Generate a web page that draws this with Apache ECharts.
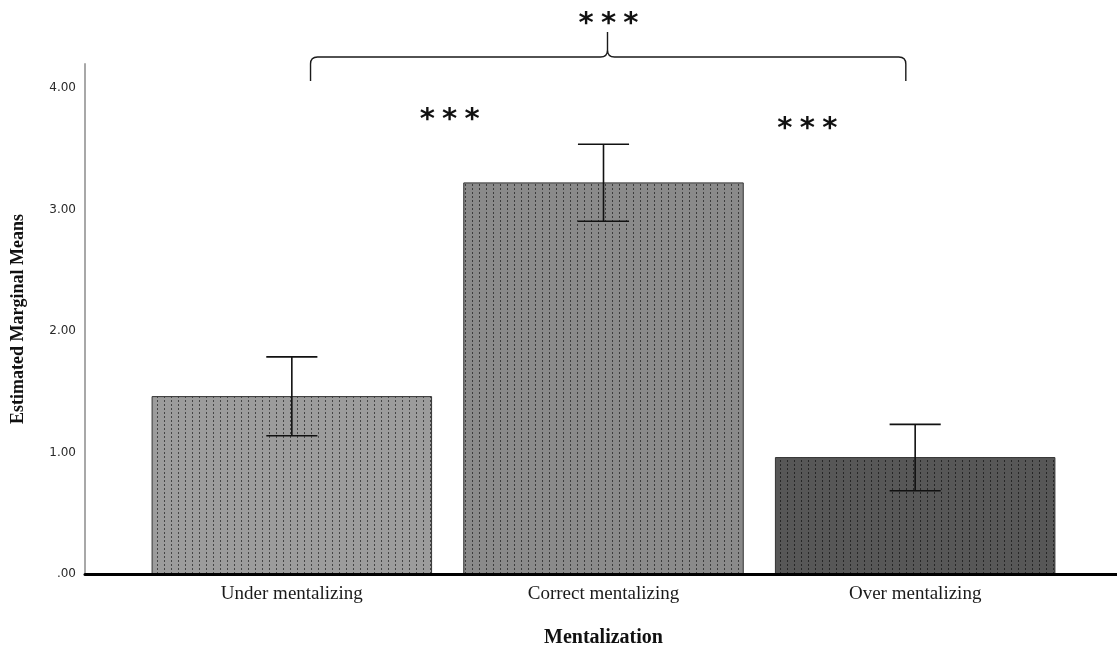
<!DOCTYPE html>
<html>
<head>
<meta charset="utf-8">
<script src="https://cdn.jsdelivr.net/npm/echarts@6/dist/echarts.min.js"></script>
<style>
html,body{margin:0;padding:0;background:#fff;}
#chart{width:1117px;height:648px;}
</style>
</head>
<body>
<div id="chart"></div>
<script>
// ---- data ----
const categories = ['Under mentalizing', 'Correct mentalizing', 'Over mentalizing'];
const means = [1.465, 3.225, 0.963];
const ciLow = [1.138, 2.905, 0.686];
const ciHigh = [1.788, 3.539, 1.232];
const yTicks = [0, 1, 2, 3, 4];
const sigLabel = '***';

const baseColors = ['#9c9c9c', '#8a8a8a', '#575757'];
const dotColors = ['#454545', '#3c3c3c', '#262626'];

function makePattern(base, dot) {
  const c = document.createElement('canvas');
  c.width = 7; c.height = 4;
  const g = c.getContext('2d');
  g.fillStyle = base; g.fillRect(0, 0, 7, 4);
  g.fillStyle = dot; g.fillRect(3, 0, 1, 2);
  return { image: c, repeat: 'repeat' };
}

const chart = echarts.init(document.getElementById('chart'));

const fmt = v => { const s = v.toFixed(2); return s.startsWith('0') ? s.slice(1) : s; };
const spaced = s => s.split('').join('\u2005');

const option = {
  animation: false,
  backgroundColor: '#ffffff',
  grid: [
    { left: 136, right: 46, top: 64, bottom: 74, outerBoundsMode: 'none', containLabel: false },
    { left: 85, right: 0, top: 64, bottom: 74, outerBoundsMode: 'none', containLabel: false }
  ],
  xAxis: [
    {
      type: 'category', gridIndex: 0, data: categories,
      axisLine: { show: false }, axisTick: { show: false },
      axisLabel: { fontFamily: 'Liberation Serif', fontSize: 19, color: '#1a1a1a', margin: 11 },
      name: 'Mentalization', nameLocation: 'middle', nameGap: 54,
      nameTextStyle: { fontFamily: 'Liberation Serif', fontSize: 20, fontWeight: 'bold', color: '#111' }
    },
    {
      type: 'value', gridIndex: 1, min: 0, max: 1, z: 10,
      axisLine: { show: true, lineStyle: { color: '#000', width: 3 } },
      axisTick: { show: false }, axisLabel: { show: false }, splitLine: { show: false }
    }
  ],
  yAxis: [
    { type: 'value', gridIndex: 0, min: 0, max: 4.2, show: false },
    {
      type: 'value', gridIndex: 1, min: 0, max: 4.2, interval: 1,
      axisLine: { show: true, lineStyle: { color: '#a8a8a8', width: 2 } },
      axisTick: { show: false }, splitLine: { show: false },
      axisLabel: {
        fontFamily: 'DejaVu Sans', fontSize: 12, color: '#2a2a2a', margin: 9,
        formatter: v => (yTicks.indexOf(v) >= 0 ? fmt(v) : '')
      },
      name: 'Estimated Marginal Means', nameLocation: 'middle', nameGap: 58, nameRotate: 90,
      nameTextStyle: { fontFamily: 'Liberation Serif', fontSize: 18, fontWeight: 'bold', color: '#111' }
    }
  ],
  series: [
    {
      type: 'bar', xAxisIndex: 0, yAxisIndex: 0, barWidth: '90%',
      data: means.map((v, i) => ({
        value: v,
        itemStyle: { color: makePattern(baseColors[i], dotColors[i]), borderColor: '#333', borderWidth: 1 }
      }))
    },
    {
      type: 'custom', xAxisIndex: 0, yAxisIndex: 0, z: 5,
      data: categories.map((c, i) => [i, ciLow[i], ciHigh[i]]),
      renderItem: function (params, api) {
        const x = api.value(0);
        const lo = api.coord([x, api.value(1)]);
        const hi = api.coord([x, api.value(2)]);
        const hw = api.size([1, 0])[0] * 0.082;
        const st = { stroke: '#111', lineWidth: 1.6 };
        return {
          type: 'group',
          children: [
            { type: 'line', shape: { x1: hi[0], y1: hi[1], x2: lo[0], y2: lo[1] }, style: st },
            { type: 'line', shape: { x1: hi[0] - hw, y1: hi[1], x2: hi[0] + hw, y2: hi[1] }, style: st },
            { type: 'line', shape: { x1: lo[0] - hw, y1: lo[1], x2: lo[0] + hw, y2: lo[1] }, style: st }
          ]
        };
      }
    },
    {
      // significance annotations (brace + asterisks)
      type: 'custom', xAxisIndex: 0, yAxisIndex: 0, z: 6, silent: true, clip: false,
      data: [[0]],
      renderItem: function (params, api) {
        const x0 = api.coord([0, 0])[0], x1 = api.coord([1, 0])[0], x2 = api.coord([2, 0])[0];
        const band = x1 - x0;
        const left = x0 + band * 0.06, right = x2 - band * 0.03, mid = x1 + 4;
        const yH = 57, yEnd = 81, yTip = 32, r = 7;
        const d =
          'M' + left + ' ' + yEnd +
          ' L' + left + ' ' + (yH + r) +
          ' Q' + left + ' ' + yH + ' ' + (left + r) + ' ' + yH +
          ' L' + (mid - r) + ' ' + yH +
          ' Q' + mid + ' ' + yH + ' ' + mid + ' ' + (yH - r) +
          ' L' + mid + ' ' + yTip +
          ' M' + mid + ' ' + (yH - r) +
          ' Q' + mid + ' ' + yH + ' ' + (mid + r) + ' ' + yH +
          ' L' + (right - r) + ' ' + yH +
          ' Q' + right + ' ' + yH + ' ' + right + ' ' + (yH + r) +
          ' L' + right + ' ' + yEnd;
        const ts = (t) => ({ text: t, font: 'bold 29px "DejaVu Sans"', fill: '#111', align: 'center', verticalAlign: 'middle' });
        return {
          type: 'group',
          children: [
            { type: 'path', shape: { pathData: d }, style: { fill: null, stroke: '#1a1a1a', lineWidth: 1.4 } },
            { type: 'text', x: mid + 1, y: 24, style: ts(spaced(sigLabel)) },
            { type: 'text', x: (x0 + x1) / 2 + 2, y: 120, style: ts(spaced(sigLabel)) },
            { type: 'text', x: (x1 + x2) / 2 + 48, y: 129, style: ts(spaced(sigLabel)) }
          ]
        };
      }
    }
  ]
};
chart.setOption(option);
</script>
</body>
</html>
